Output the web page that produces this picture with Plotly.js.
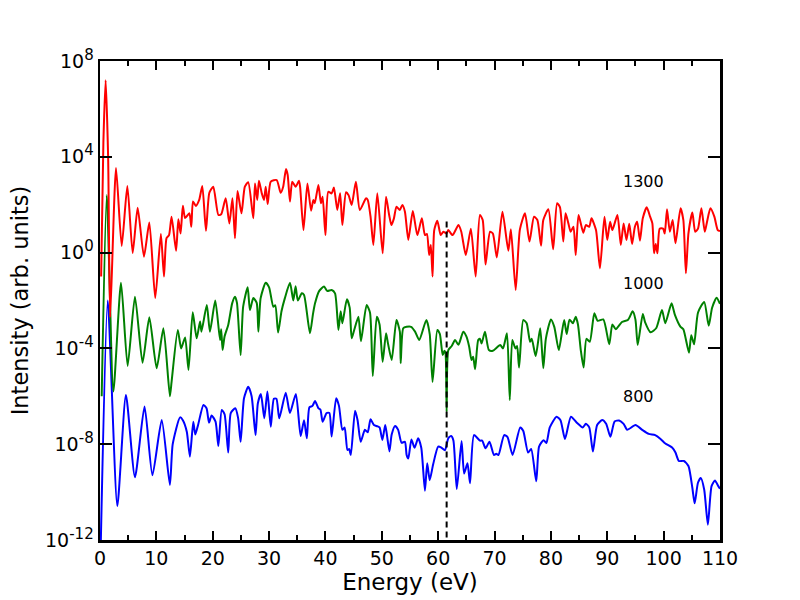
<!DOCTYPE html>
<html>
<head>
<meta charset="utf-8">
<script src="https://cdn.plot.ly/plotly-3.0.1.min.js"></script>
<style>html,body{margin:0;padding:0;background:#fff;}#chart{width:800px;height:600px;}</style>
</head>
<body>
<div id="chart"></div>
<script>
// Energies (eV) and log10(intensity)
const redE = [0.2,0.6,1.0,1.45,1.8,2.84,3.85,4.85,5.8,6.68,7.8,8.75,9.8,10.8,11.35,11.8,12.25,12.7,13.5,13.9,14.3,14.7,15.1,15.85,16.2,16.5,17.0,17.6,18.15,18.8,19.4,20.1,21.0,21.5,22.3,22.95,23.5,23.95,24.4,25.1,25.7,26.3,27.2,27.5,27.9,28.2,28.7,29.1,29.4,29.75,30.3,31.35,32.05,32.5,33.0,33.3,33.7,34.1,34.7,35.3,35.5,36.1,36.8,37.45,37.85,38.1,38.75,39.2,39.5,40.0,40.5,41.1,41.5,42.1,42.6,43.0,43.65,44.1,44.65,45.4,46.1,47.2,47.5,48.0,48.5,49.2,50.15,50.75,51.3,51.7,52.15,52.6,53.2,53.65,54.1,54.7,55.5,56.3,57.1,57.65,58.0,58.4,58.7,59.0,59.3,59.85,60.45,60.9,61.5,61.8,62.55,63.6,64.1,64.9,65.8,66.65,67.4,67.9,68.4,69.2,69.7,70.4,71.4,72.45,72.9,73.75,74.5,75.4,76.2,77.0,77.6,78.25,78.65,79.55,80.4,81.1,81.6,82.2,82.6,83.1,83.5,84.0,84.4,84.9,85.75,86.2,86.8,87.2,88.0,88.7,89.5,90.0,90.5,90.9,91.8,92.4,92.9,93.4,93.9,94.4,94.9,95.3,95.8,96.3,97.0,97.6,98.0,98.3,98.6,98.9,99.3,99.9,100.2,100.6,101.1,101.6,102.1,103.0,103.5,103.95,104.4,105.1,105.6,106.1,106.7,107.3,107.7,108.3,109.0,109.6,110];
const redLog = [-1.0,4.6,7.2,3.9,-2.7,3.53,0.28,2.78,-0.02,1.87,-0.17,1.26,-1.9,0.78,-1.0,0.6,0.73,1.5,0.08,1.39,0.8,1.96,1.44,1.64,1.08,2.13,1.95,2.2,2.78,0.91,2.5,2.75,1.57,1.6,2.27,1.22,2.27,0.6,2.57,1.64,2.75,2.94,1.43,2.89,2.2,3.0,2.48,2.2,2.75,2.03,2.96,3.03,2.5,2.75,3.49,3.24,2.13,2.96,2.75,3.0,2.75,0.94,2.89,1.75,2.2,2.06,2.82,2.06,2.33,0.73,2.54,2.47,2.72,1.78,2.48,1.15,2.52,2.4,1.99,2.96,1.78,2.27,2.2,1.5,0.32,2.48,-0.03,2.33,1.57,1.15,1.43,1.92,1.78,1.99,1.71,0.53,1.74,0.73,1.43,0.73,0.78,-0.1,0.32,-1.0,0.94,1.33,0.73,0.87,0.8,0.94,0.73,1.15,0.87,-0.1,1.0,-1.0,1.57,1.36,-0.5,0.87,0.8,-0.2,1.71,0.08,0.97,-1.56,0.97,1.64,0.46,1.5,1.36,0.29,1.36,1.81,0.14,2.06,1.9,0.46,1.64,1.22,0.87,1.08,-0.1,1.57,0.83,1.15,1.08,1.43,0.94,-0.66,1.5,0.53,1.29,0.94,1.57,0.32,1.22,0.53,1.2,0.36,1.08,1.29,0.5,1.43,1.89,1.5,1.22,-0.03,0.36,-0.03,1.0,1.0,0.8,1.81,0.87,1.36,0.39,1.85,1.36,-0.86,0.8,1.67,0.87,1.0,1.85,0.87,1.29,1.85,1.5,0.94,0.9];

const greenE = [0.3,1.2,2.37,3.73,4.9,6.2,7.55,8.75,10.05,11.25,12.4,12.7,13.8,14.4,15.1,15.7,16.45,17.15,17.75,18.0,18.95,19.5,20.45,21.3,21.5,21.75,22.1,22.75,23.45,23.95,24.3,24.95,25.4,26.2,26.6,27.2,27.8,28.1,28.5,29.4,30.0,30.75,31.1,31.6,32.2,32.8,33.7,34.3,34.7,35.1,35.8,36.2,37.25,37.8,38.15,38.9,39.75,40.3,41.1,41.7,42.3,42.7,43.0,43.8,44.3,44.65,45.1,45.85,46.3,47.3,47.9,48.4,49.1,49.6,50.15,50.75,51.1,51.75,52.6,53.2,53.35,53.8,54.4,55.2,55.9,56.65,57.9,58.5,59.0,59.85,60.3,60.8,61.1,61.3,61.5,61.8,62.4,63.0,63.6,64.45,65.0,65.5,65.9,66.2,66.55,67.1,67.4,67.7,68.3,69.0,69.7,71.0,71.5,72.2,72.7,73.15,73.7,74.0,74.35,75.1,75.7,76.3,76.6,77.3,78.1,78.65,79.1,80.0,80.6,81.4,82.35,82.8,83.3,83.9,84.4,84.8,85.3,85.8,86.3,86.9,87.7,88.3,89.3,90.35,90.9,91.5,92.6,93.7,94.5,95.0,95.4,96.3,96.7,97.7,98.7,99.7,100.3,101.4,102.0,103.0,103.5,104.5,104.9,105.4,106.1,107.2,108.0,108.6,109.4,110];
const greenLog = [-6,2.4,-5.8,-1.26,-4.73,-1.84,-4.6,-2.7,-4.83,-3.16,-6.0,-5.4,-3.23,-4.0,-3.54,-4.9,-2.49,-3.58,-2.88,-3.3,-2.19,-3.3,-2.0,-3.65,-3.2,-4.07,-3.5,-3.02,-2.12,-1.84,-2.1,-4.28,-2.26,-1.45,-2.4,-1.9,-2.1,-3.3,-1.9,-1.26,-1.45,-2.26,-2.2,-3.34,-2.45,-1.9,-1.26,-2.0,-1.4,-2.0,-1.7,-1.77,-3.37,-2.55,-2.12,-1.6,-1.42,-1.6,-1.56,-1.7,-3.23,-2.45,-2.95,-1.95,-2.3,-3.58,-3.23,-2.68,-3.7,-2.19,-2.5,-5.15,-2.68,-3.0,-4.56,-3.37,-3.8,-4.48,-2.81,-3.3,-4.62,-3.16,-3.1,-3.1,-3.3,-3.65,-2.81,-3.4,-5.4,-3.23,-3.4,-4.28,-4.1,-4.2,-6.64,-4.07,-3.9,-3.65,-3.85,-3.3,-3.5,-3.93,-4.48,-4.35,-4.87,-3.65,-3.6,-3.8,-3.3,-4.07,-4.1,-3.86,-4.0,-3.37,-6.15,-3.65,-4.0,-3.9,-4.8,-2.81,-2.95,-3.72,-3.6,-4.32,-3.16,-4.83,-3.6,-2.79,-3.1,-4.07,-2.81,-3.4,-2.8,-2.95,-2.68,-3.0,-4.07,-4.8,-3.6,-3.72,-2.53,-2.85,-2.79,-3.83,-3.0,-3.2,-2.9,-2.8,-2.45,-2.8,-3.86,-2.56,-2.9,-3.33,-3.15,-2.4,-2.95,-2.12,-2.6,-3.1,-3.2,-4.18,-3.45,-3.83,-2.5,-2.06,-3.05,-2.3,-1.88,-2.14];

const blueE = [0.15,1.37,3.07,4.6,6.2,7.9,9.3,10.95,12.4,12.9,14.2,14.7,15.4,15.95,16.55,16.9,17.4,18.35,18.9,19.35,19.8,20.5,21.0,21.6,22.1,22.75,23.2,24.0,24.5,24.95,25.55,26.3,26.9,27.6,28.0,28.55,29.15,29.7,30.3,30.85,31.3,31.8,32.95,33.7,34.75,35.6,36.2,36.7,37.15,37.7,38.15,38.75,39.1,39.5,40.2,40.7,41.1,41.9,42.4,43.0,43.4,43.9,44.2,44.5,45.25,45.7,46.25,47.0,47.5,48.0,48.6,49.2,49.6,50.1,50.6,50.9,51.35,51.75,52.35,52.9,53.5,54.1,54.4,54.7,55.25,55.8,56.45,57.0,57.65,58.05,58.5,59.1,60.0,60.6,61.2,61.8,62.3,62.7,63.3,64.15,64.6,65.2,65.65,66.35,67.4,67.8,68.4,69.1,69.9,70.3,70.7,71.7,72.3,73.2,74.55,75.1,75.95,76.5,77.4,77.9,78.7,79.2,79.8,81.0,81.7,82.5,83.55,84.6,85.65,86.2,86.8,87.45,88.2,89.1,89.8,90.55,91.3,92.1,92.9,93.55,95.0,96.2,97.35,98.5,99.45,100.3,101.5,102.1,102.7,103.6,104.4,105.1,105.5,106.1,106.6,107.2,107.85,108.5,109.1,109.7,110];
const blueLog = [-12,-2.0,-10.58,-5.95,-9.38,-6.43,-9.3,-6.99,-9.7,-8.0,-6.88,-7.0,-7.48,-8.52,-7.06,-7.6,-7.2,-6.36,-6.5,-7.1,-6.8,-7.06,-8.08,-6.57,-6.75,-8.35,-6.7,-6.5,-6.9,-7.9,-6.08,-5.6,-6.0,-7.62,-6.3,-5.9,-6.92,-5.8,-7.27,-6.1,-6.1,-6.92,-5.85,-6.7,-5.9,-7.66,-7.0,-7.75,-6.46,-6.4,-6.2,-6.5,-6.55,-7.06,-6.7,-6.7,-7.68,-6.08,-6.4,-7.4,-7.3,-8.24,-8.2,-8.45,-6.6,-7.0,-7.9,-7.4,-7.5,-6.96,-7.2,-7.25,-7.3,-7.82,-7.2,-7.6,-8.3,-7.6,-7.24,-7.4,-7.94,-7.9,-8.45,-8.6,-7.8,-8.15,-7.75,-8.15,-9.94,-8.8,-9.5,-8.85,-8.1,-8.15,-8.25,-7.75,-7.66,-7.85,-9.87,-7.87,-9.22,-8.8,-9.63,-7.62,-7.85,-7.85,-8.17,-7.9,-8.45,-8.4,-8.45,-7.62,-7.7,-8.45,-7.3,-7.45,-8.35,-8.2,-9.55,-8.1,-7.83,-7.95,-7.3,-6.85,-7.0,-7.78,-6.85,-7.1,-7.3,-7.15,-7.3,-8.31,-7.2,-6.99,-7.15,-7.69,-7.05,-7.01,-7.15,-7.4,-7.2,-7.4,-7.57,-7.62,-7.78,-7.97,-8.14,-8.35,-8.7,-8.7,-8.91,-9.83,-10.47,-9.6,-9.41,-9.9,-11.36,-9.75,-9.52,-9.75,-9.86];

const dashE = [61.5, 61.5];
const dashLog = [1.3, -12];

const labels = ['1300', '1000', '800'];
const labelE = [92.4, 92.4, 92.4];
const labelLog = [2.95, -1.27, -6.0];

const yTickExp = [-12, -8, -4, 0, 4, 8];

const pow10 = a => a.map(v => Math.pow(10, v));

const lineStyle = c => ({color: c, width: 2, shape: 'spline', smoothing: 0.6});

const traces = [
  {x: blueE, y: pow10(blueLog), mode: 'lines', line: lineStyle('#0000ff'), hoverinfo: 'skip'},
  {x: greenE, y: pow10(greenLog), mode: 'lines', line: lineStyle('#008000'), hoverinfo: 'skip'},
  {x: redE, y: pow10(redLog), mode: 'lines', line: lineStyle('#ff0000'), hoverinfo: 'skip'},
  {x: dashE, y: pow10(dashLog), mode: 'lines', line: {color: '#000', width: 2, dash: '6px,4px'}, hoverinfo: 'skip'}
];

const font = {family: 'DejaVu Sans, sans-serif', color: '#000'};

const layout = {
  width: 800, height: 600,
  showlegend: false,
  paper_bgcolor: '#fff', plot_bgcolor: '#fff',
  margin: {l: 100, r: 80, t: 61, b: 60},
  font: Object.assign({size: 19}, font),
  xaxis: {
    range: [0, 110], dtick: 10, tick0: 0,
    ticks: 'inside', ticklen: 9, tickwidth: 2, tickcolor: '#000',
    showline: true, linewidth: 2.5, linecolor: '#000', mirror: 'ticks',
    showgrid: false, zeroline: false,
    tickfont: Object.assign({size: 19}, font),
    minor: {ticks: 'inside', dtick: 5, tick0: 0, ticklen: 5, tickwidth: 2, tickcolor: '#000', showgrid: false},
    title: {text: 'Energy (eV)', font: Object.assign({size: 23}, font), standoff: 6}
  },
  yaxis: {
    type: 'log', range: [-12, 8],
    tickvals: pow10(yTickExp),
    ticktext: yTickExp.map(e => '10<sup><span style="font-size:15px">' + e + '</span></sup>'),
    ticks: 'inside', ticklen: 12, tickwidth: 2, tickcolor: '#000',
    showline: true, linewidth: 2.5, linecolor: '#000', mirror: 'ticks',
    showgrid: false, zeroline: false,
    tickfont: Object.assign({size: 19}, font),
    title: {text: 'Intensity (arb. units)', font: Object.assign({size: 22.5}, font), standoff: 10}
  },
  annotations: labels.map((t, i) => ({
    x: labelE[i], y: labelLog[i], xref: 'x', yref: 'y', text: t,
    showarrow: false, xanchor: 'left', yanchor: 'middle',
    font: Object.assign({size: 16}, font)
  }))
};

Plotly.newPlot('chart', traces, layout, {displayModeBar: false, staticPlot: true});
</script>
</body>
</html>
